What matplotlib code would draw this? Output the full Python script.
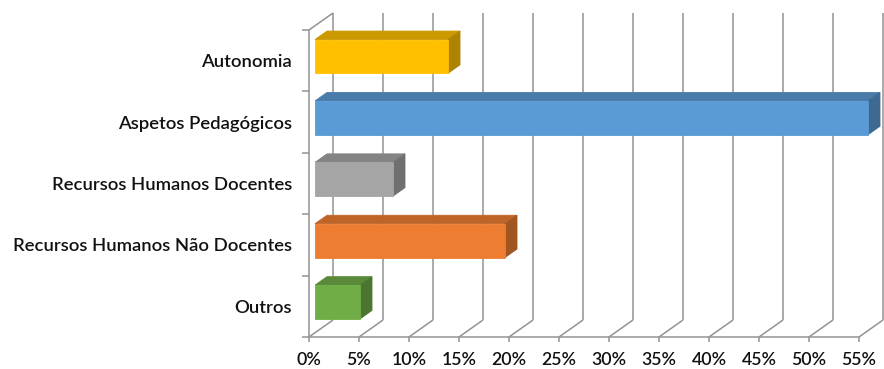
import matplotlib
matplotlib.use("Agg")
import matplotlib.pyplot as plt
from matplotlib.patches import Polygon
import numpy as np

# Survey categories (bottom to top) and their share of answers, in percent
categories = ["Outros", "Recursos Humanos Não Docentes", "Recursos Humanos Docentes",
              "Aspetos Pedagógicos", "Autonomia"]
values = [4.5, 19.0, 7.8, 55.3, 13.3]
front_colors = ["#70AD47", "#ED7D31", "#A5A5A5", "#5B9BD5", "#FFC000"]
tick_values = list(range(0, 56, 5))
tick_labels = [f"{v}%" for v in tick_values]

plt.rcParams["font.family"] = ["Lato", "DejaVu Sans"]
plt.rcParams["font.weight"] = "semibold"

W, H, DPI = 884, 369, 100
fig = plt.figure(figsize=(W / DPI, H / DPI), dpi=DPI)
fig.patch.set_facecolor("white")
ax = fig.add_axes([309 / W, (H - 337) / H, 550 / W, 307 / H])
ax.set_xlim(0, 55)
ax.set_ylim(-0.5, len(categories) - 0.5)
ax.patch.set_visible(False)

GRID = "#939393"
DEPTH = np.array([24.0, 17.0])  # oblique depth of the 3-D box, in pixels


def proj(x, y, d):
    """Data point (x, y) pushed back by depth fraction d of the box."""
    p = ax.transData.transform((x, y)) + d * DEPTH
    return ax.transData.inverted().transform(p)


def line(p, q, **kw):
    ax.plot([p[0], q[0]], [p[1], q[1]], color=GRID, lw=1.1, clip_on=False,
            solid_capstyle="butt", **kw)


y_lo, y_hi = -0.5, len(categories) - 0.5
# back wall gridlines and floor lines
for v in tick_values:
    line(proj(v, y_lo, 1), proj(v, y_hi, 1), zorder=1)
    line(proj(v, y_lo, 0), proj(v, y_lo, 1), zorder=1)
# top edge of the side wall
line(proj(0, y_hi, 0), proj(0, y_hi, 1), zorder=1)


def shade(hex_color, f):
    c = np.array(matplotlib.colors.to_rgb(hex_color))
    return tuple(c * f)


bar_h = 0.55
d0, d1 = 0.25, 0.75
for i, (v, col) in enumerate(zip(values, front_colors)):
    y0, y1 = i - bar_h / 2, i + bar_h / 2
    front = [proj(0, y0, d0), proj(v, y0, d0), proj(v, y1, d0), proj(0, y1, d0)]
    top = [proj(0, y1, d0), proj(v, y1, d0), proj(v, y1, d1), proj(0, y1, d1)]
    side = [proj(v, y0, d0), proj(v, y0, d1), proj(v, y1, d1), proj(v, y1, d0)]
    for pts, c in ((top, shade(col, 0.80)), (side, shade(col, 0.68)), (front, col)):
        ax.add_patch(Polygon(pts, closed=True, facecolor=c, edgecolor=c,
                             lw=0.6, zorder=3, clip_on=False))

# axes: front floor edge and side wall edge
for s in ("top", "right"):
    ax.spines[s].set_visible(False)
for s in ("left", "bottom"):
    ax.spines[s].set_color(GRID)
    ax.spines[s].set_linewidth(1.1)
    ax.spines[s].set_zorder(2)

ax.set_xticks(tick_values, tick_labels)
ax.tick_params(axis="x", length=3.6, width=1.1, color=GRID, pad=7,
               labelsize=12.8, labelcolor="#111111")
ax.set_yticks(range(len(categories)), categories)
ax.tick_params(axis="y", which="major", length=0, pad=12.2,
               labelsize=13.3, labelcolor="#111111")
ax.set_yticks(np.arange(y_lo, y_hi + 0.01, 1.0), minor=True)
ax.tick_params(axis="y", which="minor", length=5, width=1.1, color=GRID)

fig.savefig("out.png", dpi=DPI, facecolor="white")
